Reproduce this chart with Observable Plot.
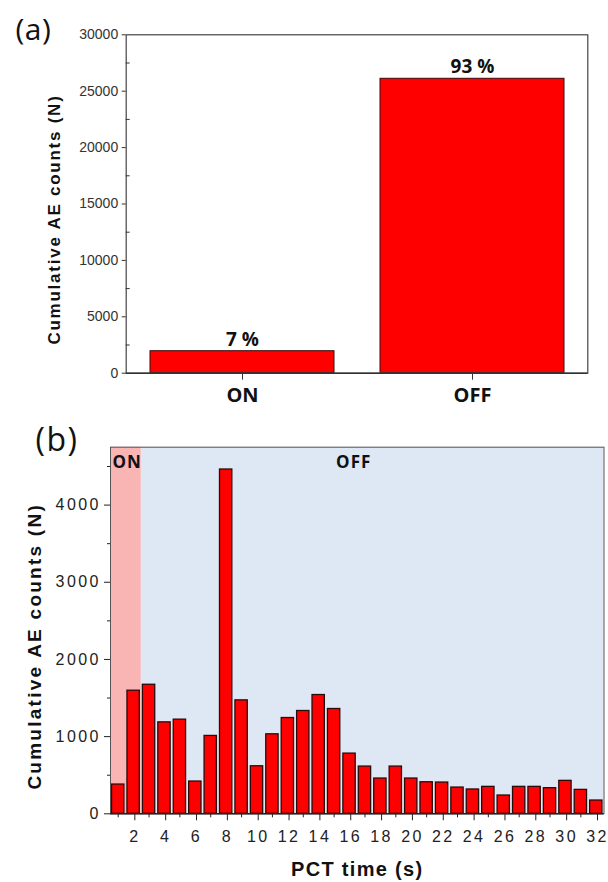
<!DOCTYPE html>
<html>
<head>
<meta charset="utf-8">
<script src="https://cdn.jsdelivr.net/npm/d3@7"></script>
<script src="https://cdn.jsdelivr.net/npm/@observablehq/plot@0.6"></script>
<style>
  html, body { margin: 0; padding: 0; background: #ffffff; }
  #chart { width: 608px; }
  #chart svg { display: block; }
</style>
</head>
<body>
<div id="chart"></div>
<script>
// ---------- Panel (a) data ----------
const onOffCategories = ["ON", "OFF"];
const onOffCounts = [1950, 26100];
const onOffShares = ["7 %", "93 %"];
const yTicksA = [0, 5000, 10000, 15000, 20000, 25000, 30000];
const yMinorA = [2500, 7500, 12500, 17500, 22500, 27500];

// ---------- Panel (b) data ----------
const pctTime = [1, 2, 3, 4, 5, 6, 7, 8, 9, 10, 11, 12, 13, 14, 15, 16,
                 17, 18, 19, 20, 21, 22, 23, 24, 25, 26, 27, 28, 29, 30, 31, 32];
const aeCounts = [379, 1595, 1672, 1185, 1220, 418, 1009, 4461, 1470, 616, 1030, 1241, 1332, 1539, 1358, 780,
                  612, 457, 612, 457, 409, 405, 340, 315, 349, 237, 349, 349, 332, 427, 310, 172];
const phaseLabels = ["ON", "OFF"];
const phaseStart = [0.5, 2.5];
const phaseEnd = [2.5, 32.5];
const phaseLabelAt = [0.5, 15];
const xTicksB = [2, 4, 6, 8, 10, 12, 14, 16, 18, 20, 22, 24, 26, 28, 30, 32];
const xMinorB = [1, 3, 5, 7, 9, 11, 13, 15, 17, 19, 21, 23, 25, 27, 29, 31];
const yTicksB = [0, 1000, 2000, 3000, 4000];
const yMinorB = [500, 1500, 2500, 3500, 4500];

const yTitle = "Cumulative AE counts (N)";
const xTitleB = "PCT time (s)";

const sans = "'Liberation Sans', Arial, Helvetica, sans-serif";
const open = "'Open Sans', 'Noto Sans', sans-serif";

// ---------- Panel (a) ----------
const dataA = onOffCategories.map((c, i) => ({cat: c, n: onOffCounts[i], share: onOffShares[i]}));

const plotA = Plot.plot({
  width: 608,
  height: 420,
  marginLeft: 125.7,
  marginRight: 20.7,
  marginTop: 34.3,
  marginBottom: 47.3,
  style: {color: "#333", fontFamily: sans, background: "transparent", overflow: "visible"},
  x: {type: "band", domain: onOffCategories, paddingInner: 0.2, paddingOuter: 0.1, axis: null},
  y: {domain: [0, 30000], axis: null},
  marks: [
    Plot.barY(dataA, {x: "cat", y: "n", fill: "#ff0000", stroke: "#3a0a0a", strokeWidth: 1}),
    Plot.frame({stroke: "#444", strokeWidth: 1.2}),
    Plot.ruleY([0], {stroke: "#333", strokeWidth: 1.6}),
    Plot.axisY({ticks: yTicksA, label: null, tickSize: 4, tickPadding: 4, tickFormat: d3.format("d"), fontSize: 14, color: "#333"}),
    Plot.axisY({ticks: yMinorA, label: null, tickSize: 4, dx: 4, tickFormat: () => "", color: "#333"}),
    Plot.axisX({label: null, tickSize: 7, tickPadding: 8, fontSize: 20, fontWeight: "bold", fontFamily: open, stroke: "#333", fill: "#111"}),
    Plot.text(dataA, {x: "cat", y: "n", text: "share", lineAnchor: "top", dy: -19, fontSize: 19, fontWeight: "bold", fontFamily: open, fill: "#111"}),
    Plot.text([yTitle], {frameAnchor: "left", textAnchor: "middle", rotate: -90, dx: -72, dy: 15.5, fontSize: 17, fontWeight: "bold", fill: "#111"}),
    Plot.text(["(a)"], {frameAnchor: "top-left", textAnchor: "start", lineAnchor: "top", dx: -110.7, dy: -16, fontSize: 30, fontFamily: open, fill: "#111"})
  ]
});

// ---------- Panel (b) ----------
const dataB = pctTime.map((t, i) => ({t, n: aeCounts[i]}));
const phases = phaseLabels.map((l, i) => ({label: l, x1: phaseStart[i], x2: phaseEnd[i], at: phaseLabelAt[i]}));
const phaseFill = {ON: "#f9b4b4", OFF: "#dde8f4"};

const plotB = Plot.plot({
  width: 608,
  height: 462,
  marginLeft: 110,
  marginRight: 4.5,
  marginTop: 26.7,
  marginBottom: 68.7,
  style: {color: "#222", fontFamily: sans, background: "transparent", overflow: "visible"},
  color: {type: "identity"},
  x: {domain: [0.5, 32.5], axis: null},
  y: {domain: [0, 4750], axis: null},
  marks: [
    Plot.rect(phases, {x1: "x1", x2: "x2", fill: d => phaseFill[d.label]}),
    Plot.rectY(dataB, {x1: d => d.t - 0.4, x2: d => d.t + 0.4, y: "n", fill: "#ff0000", stroke: "#2b0a0a", strokeWidth: 1.3}),
    Plot.frame({stroke: "#555", strokeWidth: 1}),
    Plot.ruleY([0], {stroke: "#222", strokeWidth: 1.6}),
    Plot.axisY({ticks: yTicksB, label: null, tickSize: 6, tickPadding: 3.7, tickFormat: d3.format("d"), fontSize: 16, color: "#222"}),
    Plot.axisY({ticks: yMinorB, label: null, tickSize: 3, tickFormat: () => "", color: "#222"}),
    Plot.axisX({ticks: xTicksB, label: null, tickSize: 7, tickPadding: 9.7, tickFormat: d3.format("d"), fontSize: 16, dx: 1.2, color: "#222"}),
    Plot.axisX({ticks: xMinorB, label: null, tickSize: 4, tickFormat: () => "", color: "#222"}),
    Plot.text(phases, {x: "at", text: "label", frameAnchor: "top", textAnchor: "start", lineAnchor: "top", dx: 2, dy: 8.5, fontSize: 17, fontWeight: "bold", fontFamily: open, fill: "#111"}),
    Plot.text([yTitle], {frameAnchor: "left", textAnchor: "middle", rotate: -90, dx: -76, dy: 15.8, fontSize: 19, fontWeight: "bold", fill: "#111"}),
    Plot.text([xTitleB], {frameAnchor: "bottom", textAnchor: "middle", lineAnchor: "top", dy: 48.4, fontSize: 20, fontWeight: "bold", fill: "#111"}),
    Plot.text(["(b)"], {frameAnchor: "top-left", textAnchor: "start", lineAnchor: "top", dx: -75, dy: -18.5, fontSize: 32, fontFamily: open, fill: "#111"})
  ]
});

// letter spacing, matched by text content
function spaceText(svg, match, ls) {
  svg.querySelectorAll("text").forEach(t => {
    if (match(t.textContent)) t.style.letterSpacing = ls;
  });
}
spaceText(plotA, s => s === yTitle, "1.75px");
spaceText(plotA, s => s === "(a)", "0.5px");
spaceText(plotB, s => s === yTitle, "2.25px");
spaceText(plotB, s => s === xTitleB, "1.3px");
spaceText(plotB, s => /^\d+$/.test(s), "2.4px");
spaceText(plotB, s => s === "ON" || s === "OFF", "1px");
spaceText(plotB, s => s === "(b)", "1.5px");

const chart = document.getElementById("chart");
chart.appendChild(plotA);
chart.appendChild(plotB);
</script>
</body>
</html>
